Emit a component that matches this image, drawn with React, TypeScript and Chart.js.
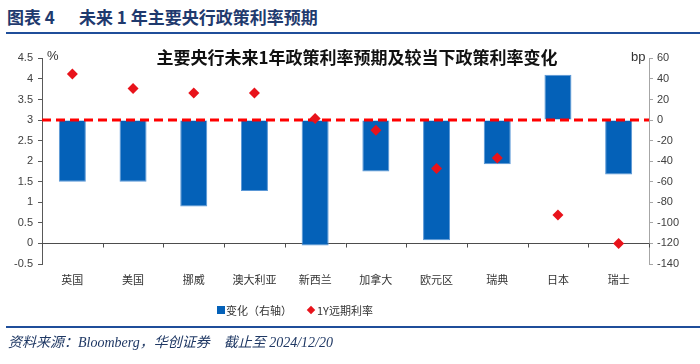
import React, { useEffect, useRef } from "react";
import { Chart, registerables } from "chart.js";

Chart.register(...registerables);

const categories = ["英国", "美国", "挪威", "澳大利亚", "新西兰", "加拿大", "欧元区", "瑞典", "日本", "瑞士"];
const changeBp = [-60, -60, -84, -69, -122, -50, -117, -43, 44, -53];
const forwardRate = [4.12, 3.77, 3.66, 3.66, 3.04, 2.75, 1.82, 2.08, 0.69, 0.0];
const seriesNames = ["变化（右轴）", "1Y远期利率"];
const leftRange = [-0.5, 4.5, 0.5];
const rightRange = [-140, 60, 20];
const currentLevel = 3;

const BAR_BLUE = "#0461B8";
const RED = "#E8131B";
const CJK = '"Noto Sans CJK SC", "Liberation Sans", sans-serif';

const overlayPlugin = {
  id: "overlay",
  beforeDatasetsDraw(chart: any) {
    const { ctx, chartArea, scales } = chart;
    const y0 = Math.round(scales.y.getPixelForValue(0)) + 0.5;
    const n = categories.length;
    const w = (chartArea.right - chartArea.left) / n;
    ctx.save();
    ctx.strokeStyle = "#4D4D4D";
    ctx.lineWidth = 1;
    ctx.beginPath();
    ctx.moveTo(chartArea.left, y0);
    ctx.lineTo(chartArea.right, y0);
    for (let k = 0; k <= n; k++) {
      const x = Math.round(chartArea.left + k * w) + 0.5;
      ctx.moveTo(x, y0);
      ctx.lineTo(x, y0 + 4);
    }
    ctx.stroke();
    ctx.restore();
  },
  beforeDatasetDraw(chart: any, args: any) {
    if (args.index !== 1) return;
    const { ctx, chartArea, scales } = chart;
    const y = scales.y.getPixelForValue(currentLevel);
    ctx.save();
    ctx.strokeStyle = "#FF0000";
    ctx.lineWidth = 3;
    ctx.setLineDash([9, 5]);
    ctx.beginPath();
    ctx.moveTo(chartArea.left, y);
    ctx.lineTo(chartArea.right, y);
    ctx.stroke();
    ctx.restore();
  },
};

export default function App() {
  const ref = useRef<HTMLCanvasElement | null>(null);

  useEffect(() => {
    if (!ref.current) return;
    const chart = new Chart(ref.current, {
      type: "bar",
      data: {
        labels: categories,
        datasets: [
          {
            type: "bar",
            label: seriesNames[0],
            data: changeBp,
            yAxisID: "y2",
            backgroundColor: BAR_BLUE,
            borderColor: "#5A97D6",
            borderWidth: 1,
            barPercentage: 0.445,
            categoryPercentage: 1,
            order: 2,
          } as any,
          {
            type: "line",
            label: seriesNames[1],
            data: forwardRate,
            yAxisID: "y",
            showLine: false,
            pointStyle: "rectRot",
            pointRadius: 5.5,
            pointBackgroundColor: RED,
            pointBorderColor: RED,
            pointBorderWidth: 0,
            order: 1,
          } as any,
        ],
      },
      options: {
        animation: false,
        responsive: false,
        maintainAspectRatio: false,
        layout: { padding: { top: 18.4, left: 0, right: 0, bottom: 0 } },
        plugins: {
          legend: { display: false },
          tooltip: { enabled: false },
          title: { display: false },
        },
        scales: {
          x: {
            type: "category",
            grid: { display: false, drawTicks: false },
            border: { display: false },
            ticks: {
              padding: 9,
              color: "#333333",
              font: { size: 11, family: CJK },
              maxRotation: 0,
              autoSkip: false,
            },
            afterFit(scale: any) {
              scale.height = 56;
            },
          },
          y: {
            type: "linear",
            position: "left",
            min: leftRange[0],
            max: leftRange[1],
            ticks: {
              stepSize: leftRange[2],
              color: "#404040",
              font: { size: 11, family: '"Liberation Sans", Arial, sans-serif' },
              padding: 5,
              callback: (v: any) => String(Math.round(Number(v) * 10) / 10),
            },
            grid: { drawOnChartArea: false, tickLength: 4, color: "#595959" },
            border: { display: true, color: "#595959", width: 1 },
            afterFit(scale: any) {
              scale.width = 42;
            },
          },
          y2: {
            type: "linear",
            position: "right",
            min: rightRange[0],
            max: rightRange[1],
            ticks: {
              stepSize: rightRange[2],
              color: "#404040",
              font: { size: 11, family: '"Liberation Sans", Arial, sans-serif' },
              padding: 4,
            },
            grid: { drawOnChartArea: false, tickLength: 4, color: "#A6A6A6" },
            border: { display: true, color: "#A6A6A6", width: 1 },
            afterFit(scale: any) {
              scale.width = 51;
            },
          },
        },
      } as any,
      plugins: [overlayPlugin],
    });
    return () => chart.destroy();
  }, []);

  const abs = (s: React.CSSProperties): React.CSSProperties => ({ position: "absolute", whiteSpace: "nowrap", ...s });

  return (
    <div style={{ position: "fixed", left: 0, top: 0, width: 700, height: 364, background: "#fff", overflow: "hidden" }}>
      <div style={abs({ left: 7, top: 6, fontFamily: CJK, fontWeight: 700, fontSize: 17, lineHeight: "22px", color: "#1F3A6E" })}>
        图表 4
      </div>
      <div style={abs({ left: 79, top: 6, fontFamily: CJK, fontWeight: 700, fontSize: 17, lineHeight: "22px", color: "#1F3A6E" })}>
        未来 1 年主要央行政策利率预期
      </div>
      <div style={abs({ left: 6, top: 32, width: 694, height: 2, background: "#1F4E9A" })} />
      <canvas ref={ref} width={700} height={280} style={abs({ left: 0, top: 40, width: 700, height: 280 })} />
      <div style={abs({ left: 0, top: 46, width: 714, textAlign: "center", fontFamily: CJK, fontWeight: 700, fontSize: 17, lineHeight: "22px", color: "#111" })}>
        主要央行未来1年政策利率预期及较当下政策利率变化
      </div>
      <div style={abs({ left: 47, top: 48, fontFamily: '"Liberation Sans", Arial, sans-serif', fontSize: 13, lineHeight: "16px", color: "#333" })}>%</div>
      <div style={abs({ left: 631, top: 49, fontFamily: '"Liberation Sans", Arial, sans-serif', fontSize: 13, lineHeight: "16px", color: "#333" })}>bp</div>
      <div style={abs({ left: 217, top: 302, display: "flex", alignItems: "center", fontFamily: CJK, fontSize: 11, lineHeight: "16px", color: "#333" })}>
        <span style={{ display: "inline-block", width: 8, height: 8, background: BAR_BLUE, marginRight: 1 }} />
        <span>{seriesNames[0]}</span>
        <span style={{ display: "inline-block", width: 6, height: 6, background: RED, transform: "rotate(45deg)", marginLeft: 16, marginRight: 3 }} />
        <span>{seriesNames[1]}</span>
      </div>
      <div style={abs({ left: 6, top: 326, width: 694, height: 2, background: "#1F4E9A" })} />
      <div style={abs({ left: 8, top: 333, fontFamily: '"Liberation Serif", "Noto Sans CJK SC", serif', fontStyle: "italic", fontSize: 14, lineHeight: "20px", color: "#1F3864" })}>
        资料来源：Bloomberg，华创证券&nbsp;&nbsp;&nbsp;&nbsp;截止至 2024/12/20
      </div>
    </div>
  );
}
